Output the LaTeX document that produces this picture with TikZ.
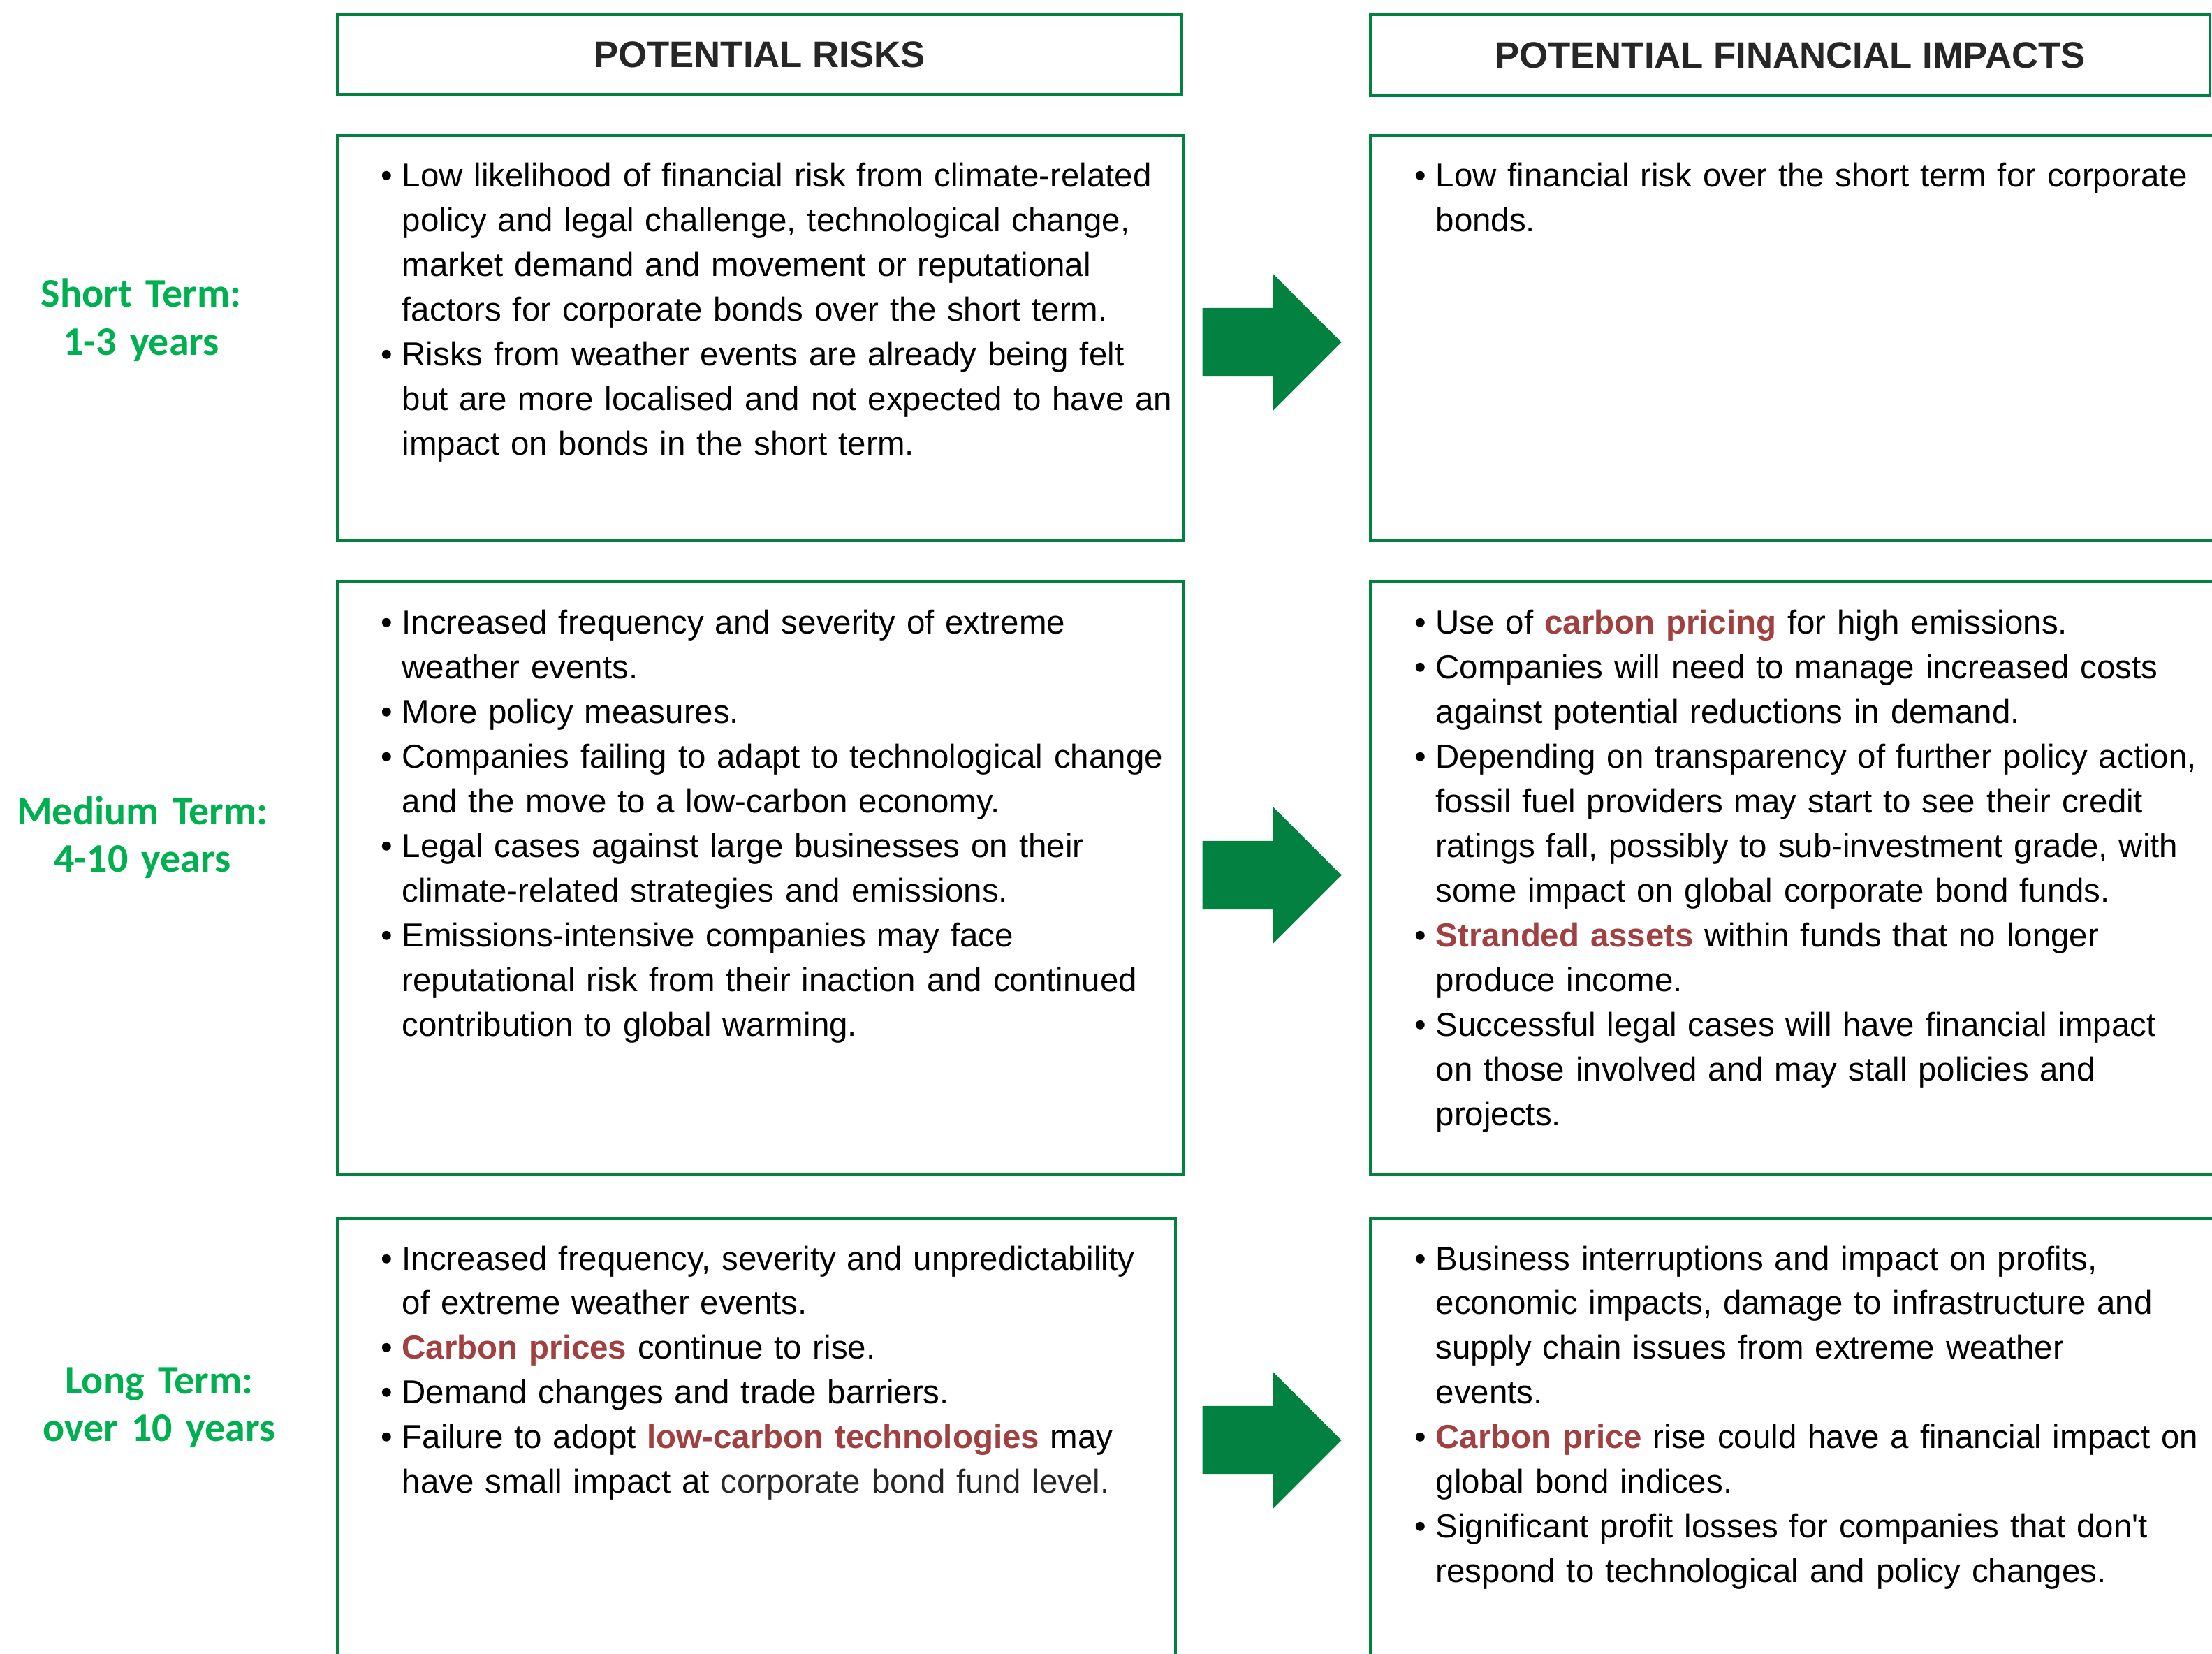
\documentclass[tikz,border=0pt]{standalone}
\usepackage{fontspec}
\setmainfont{Liberation Sans}
\newfontfamily\calfont{Carlito}
\usetikzlibrary{shapes}
\usetikzlibrary{shapes.arrows}
\definecolor{boxgreen}{RGB}{3,129,65}
\definecolor{termgreen}{RGB}{0,176,80}
\definecolor{hlred}{RGB}{160,64,64}
\newcommand{\hl}[1]{\textcolor{hlred}{\textbf{#1}}}
\newcommand{\nl}{\newline}
\newcommand{\bitem}[1]{\noindent\hangindent=0.3cm\hangafter=1\makebox[0.3cm][l]{\textbullet}#1\par}
\tikzstyle{gbox}     = [draw=boxgreen, line width=0.04cm, inner sep=0pt]
\tikzstyle{hdr}      = [gbox, text=black!85, font=\fontsize{15}{18}\selectfont\bfseries]
\tikzstyle{btext}    = [anchor=base west, inner sep=0pt, text width=11.6cm, font=\fontsize{13.5}{18.2}\selectfont]
\tikzstyle{term}     = [anchor=base, inner sep=0pt, text width=4.5cm, align=center, text=termgreen, font=\fontsize{16.5}{19.4}\selectfont\calfont\bfseries]
\tikzstyle{bigarrow} = [single arrow, anchor=tail, fill=boxgreen, draw=none, inner sep=0.485cm, minimum height=1.99cm, single arrow head extend=0.485cm]

\begin{document}
\begin{tikzpicture}
  \useasboundingbox (0,0) rectangle (31.67,-23.68);
  % column headers
  \node[hdr, minimum width=12.09cm, minimum height=1.14cm] (hrisk)   at (10.875,-0.78) {POTENTIAL RISKS};
  \node[hdr, minimum width=12.02cm, minimum height=1.16cm] (himpact) at (25.63,-0.79)  {POTENTIAL FINANCIAL IMPACTS};
  % boxes
  \node[gbox, minimum width=12.12cm, minimum height=5.80cm] (risk1)   at (10.89,-4.84)   {};
  \node[gbox, minimum width=12.58cm, minimum height=5.80cm] (impact1) at (25.91,-4.84)   {};
  \node[gbox, minimum width=12.12cm, minimum height=8.49cm] (risk2)   at (10.89,-12.575) {};
  \node[gbox, minimum width=12.58cm, minimum height=8.49cm] (impact2) at (25.91,-12.575) {};
  \node[gbox, minimum width=12.00cm, minimum height=7.05cm] (risk3)   at (10.83,-20.975) {};
  \node[gbox, minimum width=12.58cm, minimum height=7.05cm] (impact3) at (25.91,-20.975) {};
  % terms
  \node[term] (short)  at (2.02,-4.40)  {Short Term:\\1-3 years};
  \node[term] (medium) at (2.04,-11.80) {Medium Term:\\4-10 years};
  \node[term] (long)   at (2.28,-19.95) {Long Term:\\over 10 years};
  % arrows
  \node[bigarrow] (arr1) at (17.21,-4.90)  {};
  \node[bigarrow] (arr2) at (17.21,-12.53) {};
  \node[bigarrow] (arr3) at (17.21,-20.62) {};
  % texts
  \node[btext] (risk1txt) at (5.45,-2.68) {%
    \bitem{Low likelihood of financial risk from climate-related\nl policy and legal challenge, technological change,\nl market demand and movement or reputational\nl factors for corporate bonds over the short term.}%
    \bitem{Risks from weather events are already being felt\nl but are more localised and not expected to have an\nl impact on bonds in the short term.}};
  \node[btext] (impact1txt) at (20.25,-2.68) {%
    \bitem{Low financial risk over the short term for corporate\nl bonds.}};
  \node[btext] (risk2txt) at (5.45,-9.08) {%
    \bitem{Increased frequency and severity of extreme\nl weather events.}%
    \bitem{More policy measures.}%
    \bitem{Companies failing to adapt to technological change\nl and the move to a low-carbon economy.}%
    \bitem{Legal cases against large businesses on their\nl climate-related strategies and emissions.}%
    \bitem{Emissions-intensive companies may face\nl reputational risk from their inaction and continued\nl contribution to global warming.}};
  \node[btext] (impact2txt) at (20.25,-9.08) {%
    \bitem{Use of \hl{carbon pricing} for high emissions.}%
    \bitem{Companies will need to manage increased costs\nl against potential reductions in demand.}%
    \bitem{Depending on transparency of further policy action,\nl fossil fuel providers may start to see their credit\nl ratings fall, possibly to sub-investment grade, with\nl some impact on global corporate bond funds.}%
    \bitem{\hl{Stranded assets} within funds that no longer\nl produce income.}%
    \bitem{Successful legal cases will have financial impact\nl on those involved and may stall policies and\nl projects.}};
  \node[btext] (risk3txt) at (5.45,-18.18) {%
    \bitem{Increased frequency, severity and unpredictability\nl of extreme weather events.}%
    \bitem{\hl{Carbon prices} continue to rise.}%
    \bitem{Demand changes and trade barriers.}%
    \bitem{Failure to adopt \hl{low-carbon technologies} may\nl have small impact at \textcolor{black!85}{corporate bond fund level.}}};
  \node[btext] (impact3txt) at (20.25,-18.18) {%
    \bitem{Business interruptions and impact on profits,\nl economic impacts, damage to infrastructure and\nl supply chain issues from extreme weather\nl events.}%
    \bitem{\hl{Carbon price} rise could have a financial impact on\nl global bond indices.}%
    \bitem{Significant profit losses for companies that don\textquotesingle t\nl respond to technological and policy changes.}};
\end{tikzpicture}
\end{document}
